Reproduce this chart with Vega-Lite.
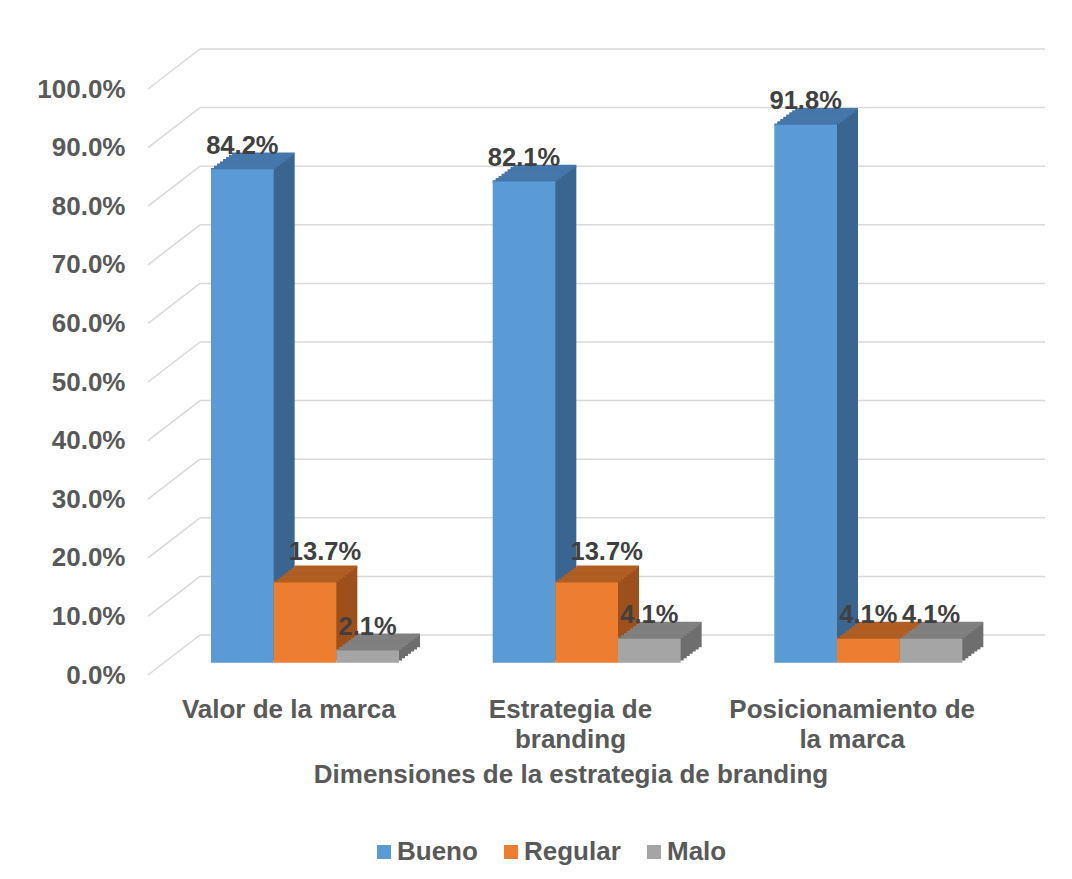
{
  "$schema": "https://vega.github.io/schema/vega-lite/v6.json",
  "width": 845,
  "height": 586,
  "autosize": "none",
  "padding": {"left": 148, "top": 89, "right": 79, "bottom": 204},
  "background": "white",
  "config": {"view": {"stroke": null}, "font": "Liberation Sans"},
  "datasets": {
    "ticks": [{"t": 0}, {"t": 0.1}, {"t": 0.2}, {"t": 0.3}, {"t": 0.4}, {"t": 0.5}, {"t": 0.6}, {"t": 0.7}, {"t": 0.8}, {"t": 0.9}, {"t": 1}]
  },
  "data": {
    "values": [
      {"dimension": "Valor de la marca", "nivel": "Bueno", "porcentaje": 0.842},
      {"dimension": "Valor de la marca", "nivel": "Regular", "porcentaje": 0.137},
      {"dimension": "Valor de la marca", "nivel": "Malo", "porcentaje": 0.021},
      {"dimension": "Estrategia de branding", "nivel": "Bueno", "porcentaje": 0.821},
      {"dimension": "Estrategia de branding", "nivel": "Regular", "porcentaje": 0.137},
      {"dimension": "Estrategia de branding", "nivel": "Malo", "porcentaje": 0.041},
      {"dimension": "Posicionamiento de la marca", "nivel": "Bueno", "porcentaje": 0.918},
      {"dimension": "Posicionamiento de la marca", "nivel": "Regular", "porcentaje": 0.041},
      {"dimension": "Posicionamiento de la marca", "nivel": "Malo", "porcentaje": 0.041}
    ]
  },
  "layer": [
    {
      "data": {"name": "ticks"},
      "mark": {"type": "rule", "color": "#D9D9D9", "strokeWidth": 1.5, "xOffset": 52, "x2Offset": 52, "yOffset": -40},
      "encoding": {
        "x": {"value": 0},
        "x2": {"value": "width"},
        "y": {"field": "t", "type": "quantitative", "scale": {"domain": [0, 1], "nice": false},
          "axis": {"values": [0, 0.1, 0.2, 0.3, 0.4, 0.5, 0.6, 0.7, 0.8, 0.9, 1], "format": ".1%", "grid": false, "domain": false, "ticks": false, "tickSize": 0, "labelPadding": 23, "labelFont": "Liberation Sans", "labelFontWeight": "bold", "labelFontSize": 26, "labelColor": "#595959", "title": null}}
      }
    },
    {
      "data": {"name": "ticks"},
      "mark": {"type": "rule", "color": "#D9D9D9", "strokeWidth": 1.5, "x2Offset": 52, "y2Offset": -40},
      "encoding": {
        "x": {"value": 0},
        "x2": {"value": 0},
        "y": {"field": "t", "type": "quantitative"},
        "y2": {"field": "t"}
      }
    },
    {
      "encoding": {
        "x": {"field": "dimension", "type": "nominal", "sort": null,
          "scale": {"paddingInner": 0, "paddingOuter": 0},
          "axis": {"labelAngle": 0, "domain": false, "ticks": false, "tickSize": 0, "labelPadding": 42, "labelBaseline": "alphabetic", "labelLimit": 500, "labelLineHeight": 30,
            "labelExpr": "datum.value == 'Estrategia de branding' ? ['Estrategia de', 'branding'] : datum.value == 'Posicionamiento de la marca' ? ['Posicionamiento de', 'la marca'] : datum.value",
            "labelFont": "Liberation Sans", "labelFontWeight": "bold", "labelFontSize": 26, "labelColor": "#595959",
            "title": "Dimensiones de la estrategia de branding", "titleFont": "Liberation Sans", "titleFontWeight": "bold", "titleFontSize": 26, "titleColor": "#595959", "titleBaseline": "alphabetic", "titleY": 107}},
        "y": {"field": "porcentaje", "type": "quantitative", "stack": null}
      },
      "layer": [
        {
          "encoding": {
            "y2": {"datum": 0},
            "color": {"field": "nivel", "type": "nominal", "sort": ["Bueno", "Regular", "Malo"], "scale": {"domain": ["Bueno", "Regular", "Malo"], "range": ["#3B6591", "#9E501C", "#6E6E6E"]}, "legend": null}
          },
          "layer": [
            {"mark": {"type": "bar", "yOffset": -14.5, "y2Offset": -14.5}, "encoding": {"xOffset": {"field": "nivel", "type": "nominal", "sort": ["Bueno", "Regular", "Malo"], "scale": {"range": [66, 254], "paddingInner": 0, "paddingOuter": 0}}}},
            {"mark": {"type": "bar", "yOffset": -16.7, "y2Offset": -16.7}, "encoding": {"xOffset": {"field": "nivel", "type": "nominal", "sort": ["Bueno", "Regular", "Malo"], "scale": {"range": [69, 257], "paddingInner": 0, "paddingOuter": 0}}}},
            {"mark": {"type": "bar", "yOffset": -18.9, "y2Offset": -18.9}, "encoding": {"xOffset": {"field": "nivel", "type": "nominal", "sort": ["Bueno", "Regular", "Malo"], "scale": {"range": [72, 260], "paddingInner": 0, "paddingOuter": 0}}}},
            {"mark": {"type": "bar", "yOffset": -21.2, "y2Offset": -21.2}, "encoding": {"xOffset": {"field": "nivel", "type": "nominal", "sort": ["Bueno", "Regular", "Malo"], "scale": {"range": [75, 263], "paddingInner": 0, "paddingOuter": 0}}}},
            {"mark": {"type": "bar", "yOffset": -23.4, "y2Offset": -23.4}, "encoding": {"xOffset": {"field": "nivel", "type": "nominal", "sort": ["Bueno", "Regular", "Malo"], "scale": {"range": [78, 266], "paddingInner": 0, "paddingOuter": 0}}}},
            {"mark": {"type": "bar", "yOffset": -25.6, "y2Offset": -25.6}, "encoding": {"xOffset": {"field": "nivel", "type": "nominal", "sort": ["Bueno", "Regular", "Malo"], "scale": {"range": [81, 269], "paddingInner": 0, "paddingOuter": 0}}}},
            {"mark": {"type": "bar", "yOffset": -27.8, "y2Offset": -27.8}, "encoding": {"xOffset": {"field": "nivel", "type": "nominal", "sort": ["Bueno", "Regular", "Malo"], "scale": {"range": [84, 272], "paddingInner": 0, "paddingOuter": 0}}}}
          ],
          "resolve": {"scale": {"xOffset": "independent"}}
        },
        {
          "encoding": {
            "y2": {"field": "porcentaje"},
            "stroke": {"field": "nivel", "type": "nominal", "sort": ["Bueno", "Regular", "Malo"], "scale": {"domain": ["Bueno", "Regular", "Malo"], "range": ["#4677AB", "#B05E22", "#808080"]}, "legend": null}
          },
          "layer": [
            {"mark": {"type": "bar", "fillOpacity": 0, "strokeWidth": 2.6, "yOffset": -12.3, "y2Offset": -12.3}, "encoding": {"xOffset": {"field": "nivel", "type": "nominal", "sort": ["Bueno", "Regular", "Malo"], "scale": {"range": [63, 251], "paddingInner": 0, "paddingOuter": 0}}}},
            {"mark": {"type": "bar", "fillOpacity": 0, "strokeWidth": 2.6, "yOffset": -14.5, "y2Offset": -14.5}, "encoding": {"xOffset": {"field": "nivel", "type": "nominal", "sort": ["Bueno", "Regular", "Malo"], "scale": {"range": [66, 254], "paddingInner": 0, "paddingOuter": 0}}}},
            {"mark": {"type": "bar", "fillOpacity": 0, "strokeWidth": 2.6, "yOffset": -16.7, "y2Offset": -16.7}, "encoding": {"xOffset": {"field": "nivel", "type": "nominal", "sort": ["Bueno", "Regular", "Malo"], "scale": {"range": [69, 257], "paddingInner": 0, "paddingOuter": 0}}}},
            {"mark": {"type": "bar", "fillOpacity": 0, "strokeWidth": 2.6, "yOffset": -18.9, "y2Offset": -18.9}, "encoding": {"xOffset": {"field": "nivel", "type": "nominal", "sort": ["Bueno", "Regular", "Malo"], "scale": {"range": [72, 260], "paddingInner": 0, "paddingOuter": 0}}}},
            {"mark": {"type": "bar", "fillOpacity": 0, "strokeWidth": 2.6, "yOffset": -21.2, "y2Offset": -21.2}, "encoding": {"xOffset": {"field": "nivel", "type": "nominal", "sort": ["Bueno", "Regular", "Malo"], "scale": {"range": [75, 263], "paddingInner": 0, "paddingOuter": 0}}}},
            {"mark": {"type": "bar", "fillOpacity": 0, "strokeWidth": 2.6, "yOffset": -23.4, "y2Offset": -23.4}, "encoding": {"xOffset": {"field": "nivel", "type": "nominal", "sort": ["Bueno", "Regular", "Malo"], "scale": {"range": [78, 266], "paddingInner": 0, "paddingOuter": 0}}}},
            {"mark": {"type": "bar", "fillOpacity": 0, "strokeWidth": 2.6, "yOffset": -25.6, "y2Offset": -25.6}, "encoding": {"xOffset": {"field": "nivel", "type": "nominal", "sort": ["Bueno", "Regular", "Malo"], "scale": {"range": [81, 269], "paddingInner": 0, "paddingOuter": 0}}}},
            {"mark": {"type": "bar", "fillOpacity": 0, "strokeWidth": 2.6, "yOffset": -27.8, "y2Offset": -27.8}, "encoding": {"xOffset": {"field": "nivel", "type": "nominal", "sort": ["Bueno", "Regular", "Malo"], "scale": {"range": [84, 272], "paddingInner": 0, "paddingOuter": 0}}}}
          ],
          "resolve": {"scale": {"xOffset": "independent"}}
        },
        {
          "mark": {"type": "bar", "yOffset": -12.3, "y2Offset": -12.3},
          "encoding": {
            "y2": {"datum": 0},
            "xOffset": {"field": "nivel", "type": "nominal", "sort": ["Bueno", "Regular", "Malo"], "scale": {"range": [63, 251], "paddingInner": 0, "paddingOuter": 0}},
            "color": {"field": "nivel", "type": "nominal", "sort": ["Bueno", "Regular", "Malo"], "scale": {"domain": ["Bueno", "Regular", "Malo"], "range": ["#5B9BD5", "#ED7D31", "#A5A5A5"]},
              "legend": {"title": null, "orient": "none", "direction": "horizontal", "legendX": 223, "legendY": 750, "padding": 0, "symbolType": "square", "symbolSize": 196, "symbolStrokeWidth": 0, "labelOffset": 0, "columnPadding": 20, "labelFont": "Liberation Sans", "labelFontWeight": "bold", "labelFontSize": 26, "labelColor": "#595959", "labelLimit": 300}}
          }
        },
        {
          "transform": [{"filter": "!(datum.nivel == 'Regular' && datum.porcentaje > 0.1)"}],
          "mark": {"type": "text", "dy": -36, "baseline": "middle", "align": "center", "font": "Liberation Sans", "fontWeight": "bold", "fontSize": 25.5, "fill": "#404040"},
          "encoding": {
            "xOffset": {"field": "nivel", "type": "nominal", "sort": ["Bueno", "Regular", "Malo"], "scale": {"type": "band", "domain": ["Bueno", "Regular", "Malo"], "range": [63, 251], "paddingInner": 0, "paddingOuter": 0}},
            "text": {"field": "porcentaje", "type": "quantitative", "format": ".1%"}
          }
        },
        {
          "transform": [{"filter": "datum.nivel == 'Regular' && datum.porcentaje > 0.1"}],
          "mark": {"type": "text", "dx": 20, "dy": -43, "baseline": "middle", "align": "center", "font": "Liberation Sans", "fontWeight": "bold", "fontSize": 25.5, "fill": "#404040"},
          "encoding": {
            "xOffset": {"field": "nivel", "type": "nominal", "sort": ["Bueno", "Regular", "Malo"], "scale": {"type": "band", "domain": ["Bueno", "Regular", "Malo"], "range": [63, 251], "paddingInner": 0, "paddingOuter": 0}},
            "text": {"field": "porcentaje", "type": "quantitative", "format": ".1%"}
          }
        }
      ],
      "resolve": {"scale": {"color": "independent", "stroke": "independent", "xOffset": "independent"}}
    }
  ]
}
